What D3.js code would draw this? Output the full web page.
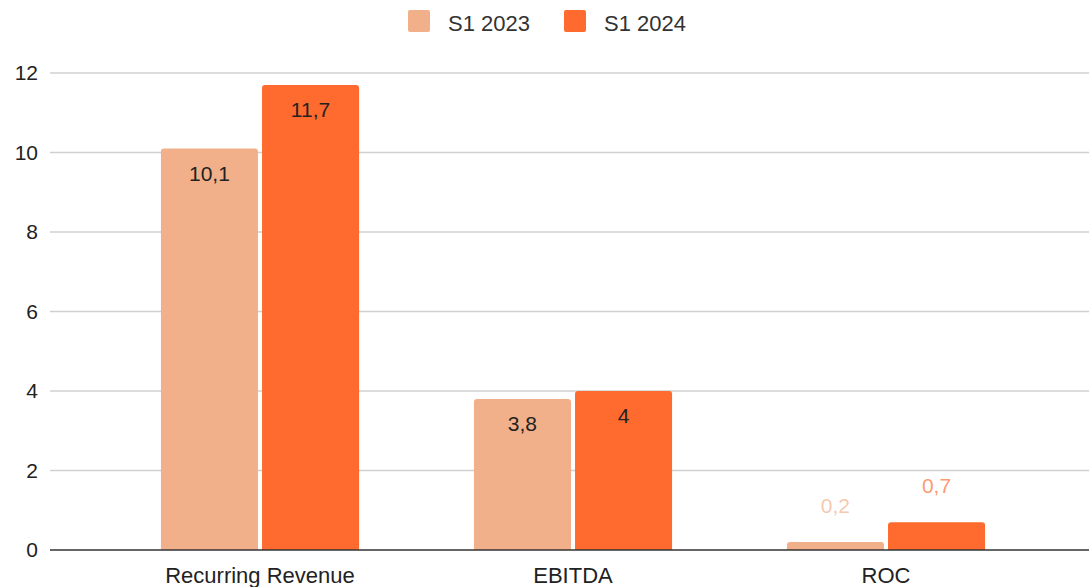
<!DOCTYPE html>
<html>
<head>
<meta charset="utf-8">
<script src="https://cdn.jsdelivr.net/npm/d3@7"></script>
<style>
  body { margin: 0; background: #fff; }
  svg text { font-family: "Liberation Sans", Arial, sans-serif; }
</style>
</head>
<body>
<div id="chart"></div>
<script>
var categories = ["Recurring Revenue", "EBITDA", "ROC"];
var seriesNames = ["S1 2023", "S1 2024"];
var s2023 = [10.1, 3.8, 0.2];
var s2024 = [11.7, 4, 0.7];
var yTicks = [0, 2, 4, 6, 8, 10, 12];
var colors = ["#f2b08a", "#ff6b2e"];

var width = 1089, height = 587;
var svg = d3.select("#chart").append("svg")
	.attr("width", width)
	.attr("height", height);

var y = d3.scaleLinear().domain([0, 12]).range([550, 73]);
var x0 = d3.scaleBand().domain(categories)
	.range([103.5, 1042.5])
	.paddingInner(0.367)
	.paddingOuter(0.1835);
var x1 = d3.scaleBand().domain(seriesNames)
	.range([0, x0.bandwidth()])
	.paddingInner(0.04);
var color = d3.scaleOrdinal().domain(seriesNames).range(colors);

// gridlines
svg.append("g")
	.selectAll("line")
	.data(yTicks.filter(t => t > 0))
	.enter()
	.append("line")
	.attr("x1", 50).attr("x2", width)
	.attr("y1", d => y(d)).attr("y2", d => y(d))
	.attr("stroke", "#d0d0d0")
	.attr("stroke-width", 1.3);

// y axis labels
var yAxis = d3.axisLeft(y).tickValues(yTicks).tickSize(0).tickPadding(0);
var gy = svg.append("g").attr("transform", "translate(38,0)").call(yAxis);
gy.select(".domain").remove();
gy.selectAll("text")
	.attr("font-size", 21)
	.attr("fill", "#222")
	.style("font-family", "'Liberation Sans', Arial, sans-serif");

// data rows
var rows = categories.map(function(c, i) {
	return {cat: c, vals: [
		{name: seriesNames[0], value: s2023[i]},
		{name: seriesNames[1], value: s2024[i]}
	]};
});

function barPath(x, yTop, w, yBase, r) {
	r = Math.min(r, (yBase - yTop) / 2);
	return "M" + x + "," + yBase +
		"V" + (yTop + r) +
		"Q" + x + "," + yTop + " " + (x + r) + "," + yTop +
		"H" + (x + w - r) +
		"Q" + (x + w) + "," + yTop + " " + (x + w) + "," + (yTop + r) +
		"V" + yBase + "Z";
}

var groups = svg.append("g")
	.selectAll("g")
	.data(rows)
	.enter()
	.append("g")
	.attr("transform", d => "translate(" + x0(d.cat) + ",0)");

groups.selectAll("path")
	.data(d => d.vals)
	.enter()
	.append("path")
	.attr("d", d => barPath(x1(d.name), y(d.value), x1.bandwidth(), y(0), 3))
	.attr("fill", d => color(d.name));

// value labels: inside near top if bar is tall enough, else above in series colour
groups.selectAll("text.val")
	.data(d => d.vals)
	.enter()
	.append("text")
	.attr("class", "val")
	.attr("x", d => x1(d.name) + x1.bandwidth() / 2)
	.attr("y", function(d) {
		var top = y(d.value);
		return (y(0) - top) > 45 ? top + 32 : top - 29;
	})
	.attr("text-anchor", "middle")
	.attr("font-size", 21)
	.attr("fill", d => (y(0) - y(d.value)) > 45 ? "#222" : color(d.name))
	.attr("fill-opacity", d => (y(0) - y(d.value)) > 45 ? 1 : 0.7)
	.text(d => String(d.value).replace(".", ","));

// baseline
svg.append("line")
	.attr("x1", 50).attr("x2", width)
	.attr("y1", y(0)).attr("y2", y(0))
	.attr("stroke", "#333")
	.attr("stroke-width", 1.3);

// category labels
svg.append("g")
	.selectAll("text")
	.data(categories)
	.enter()
	.append("text")
	.attr("x", d => x0(d) + x0.bandwidth() / 2)
	.attr("y", 583)
	.attr("text-anchor", "middle")
	.attr("font-size", 22)
	.attr("fill", "#222")
	.text(d => d);

// legend
var legendX = [408, 564];
var legend = svg.append("g")
	.selectAll("g")
	.data(seriesNames)
	.enter()
	.append("g")
	.attr("transform", (d, i) => "translate(" + legendX[i] + ",10)");
legend.append("rect")
	.attr("width", 22).attr("height", 22)
	.attr("rx", 2)
	.attr("fill", d => color(d));
legend.append("text")
	.attr("x", 40).attr("y", 21)
	.attr("font-size", 22)
	.attr("fill", "#333")
	.text(d => d);
</script>
</body>
</html>
